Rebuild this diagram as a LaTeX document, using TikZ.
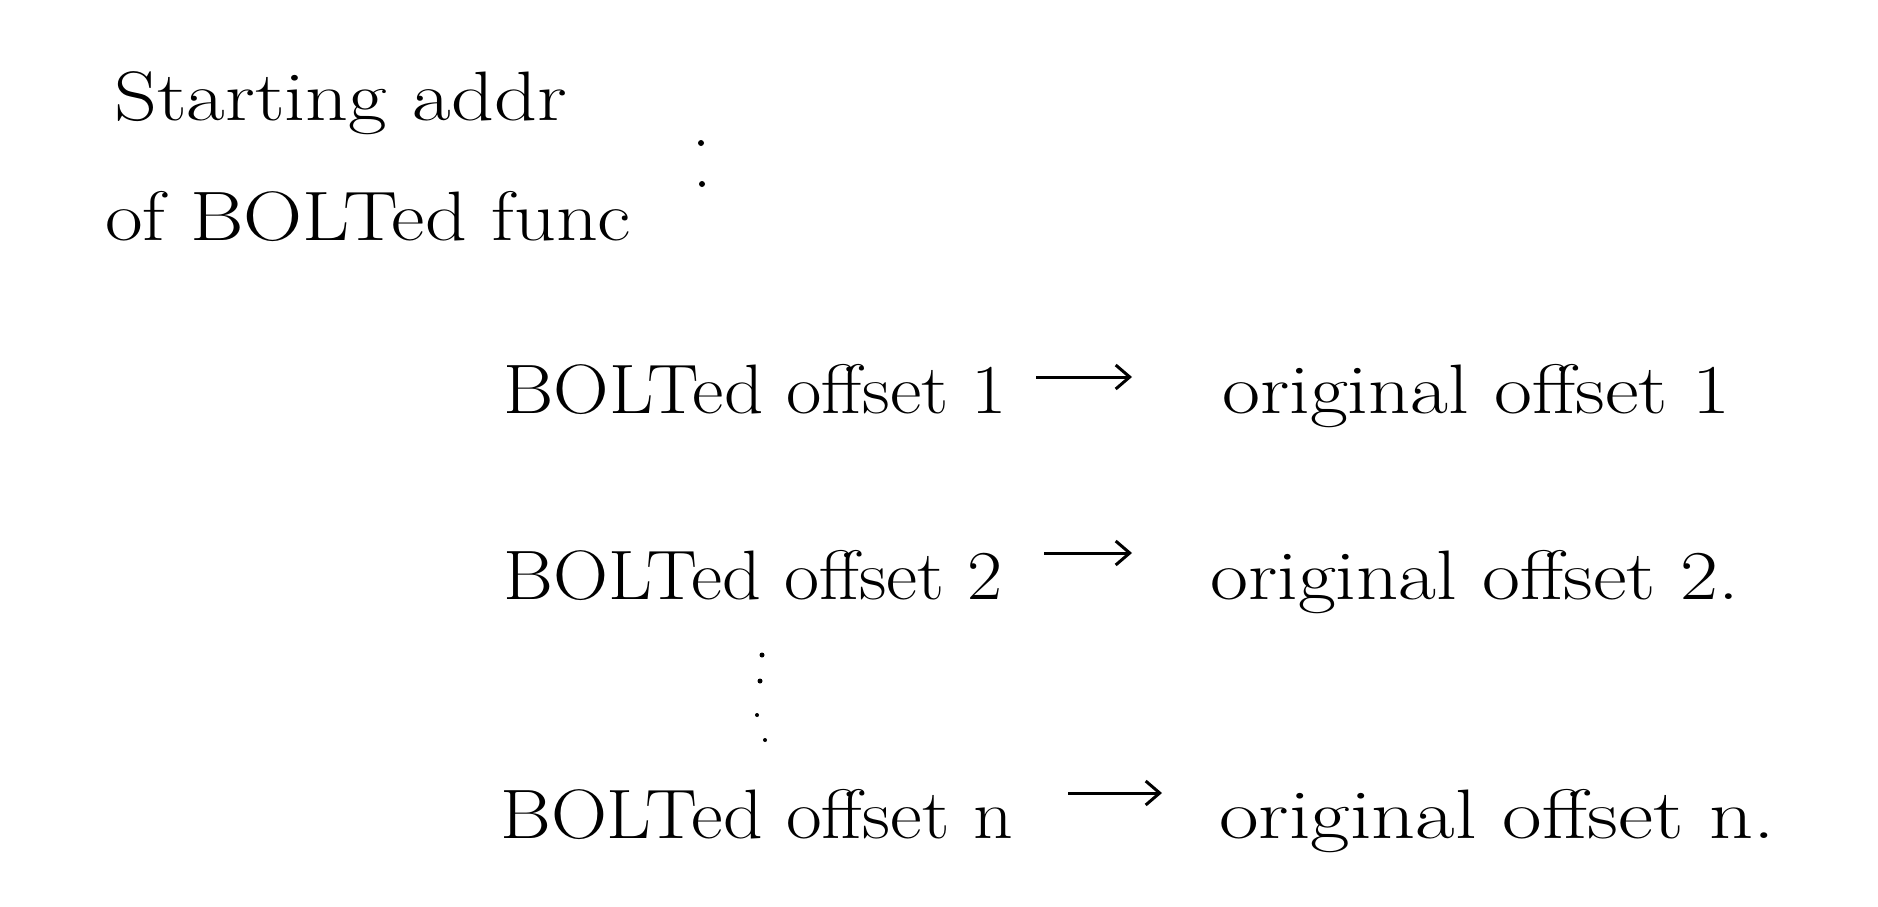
\documentclass[tikz,border=0pt]{standalone}
\usetikzlibrary{arrows.meta}
\begin{document}
\begin{tikzpicture}[x=1pt,y=-1pt,
  hand/.style={anchor=base west,inner sep=0pt,font=\fontsize{70}{76}\selectfont},
  maparrow/.style={line width=3pt,-{Straight Barb[length=14pt,width=24pt]}},
  dotmark/.style={fill=black}]
\useasboundingbox (0,0) rectangle (1878,906);
\node[hand] (s1) at (114,120) {\scalebox{1.2}[1]{Starting addr}};
\node[hand] (s2) at (105,240) {\scalebox{1.17}[1]{of BOLTed func}};
\fill[dotmark] (701,143) circle (3pt);
\fill[dotmark] (702,184) circle (3pt);
% row 1
\node[hand] (b1) at (503,413) {\scalebox{1.1}[1]{BOLTed offset 1}};
\node[hand] (o1) at (1222,413) {\scalebox{1.18}[1]{original offset 1}};
\coordinate (a1s) at (1036,377);
\coordinate (a1e) at (1132,377);
\draw[maparrow] (a1s) -- (a1e);
% row 2
\node[hand] (b2) at (503,599) {\scalebox{1.09}[1]{BOLTed offset 2}};
\node[hand] (o2) at (1210,599) {\scalebox{1.18}[1]{original offset 2.}};
\coordinate (a2s) at (1044,553);
\coordinate (a2e) at (1132,553);
\draw[maparrow] (a2s) -- (a2e);
% vertical dots
\fill[dotmark] (762,655) circle (2.5pt);
\fill[dotmark] (760,681) circle (2.5pt);
\fill[dotmark] (757,715) circle (2pt);
\fill[dotmark] (765,740) circle (2pt);
% row n
\node[hand] (bn) at (500,838) {\scalebox{1.11}[1]{BOLTed offset n}};
\node[hand] (on) at (1219,838) {\scalebox{1.23}[1]{original offset n.}};
\coordinate (ans) at (1068,793);
\coordinate (ane) at (1162,793);
\draw[maparrow] (ans) -- (ane);
\end{tikzpicture}
\end{document}
